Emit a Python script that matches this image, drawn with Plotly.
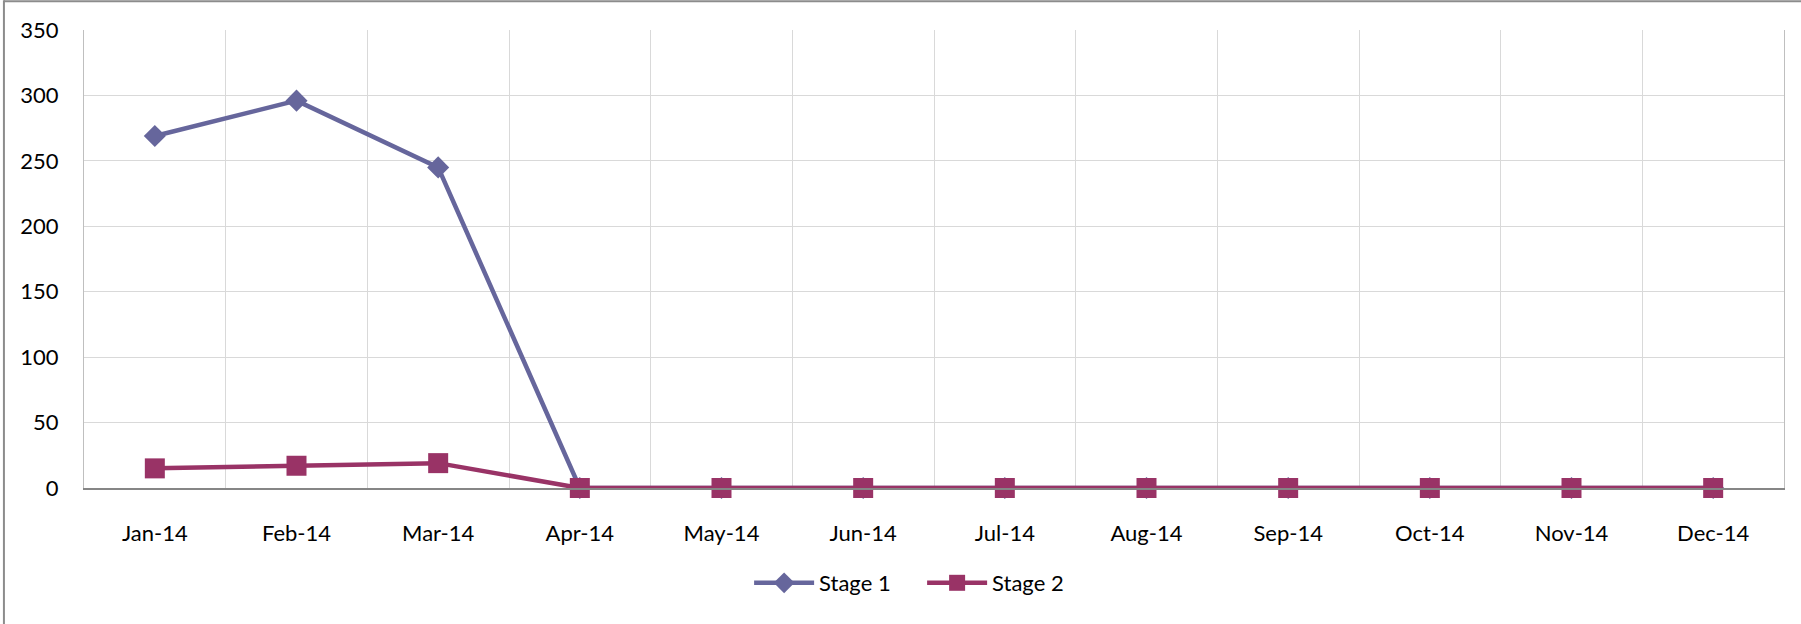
import plotly.graph_objects as go

months = ["Jan-14", "Feb-14", "Mar-14", "Apr-14", "May-14", "Jun-14",
          "Jul-14", "Aug-14", "Sep-14", "Oct-14", "Nov-14", "Dec-14"]
stage1 = [269, 296, 245, 0, 0, 0, 0, 0, 0, 0, 0, 0]
stage2 = [15, 17, 19, 0, 0, 0, 0, 0, 0, 0, 0, 0]

FONT = "Lato"

fig = go.Figure()
fig.add_trace(go.Scatter(
    x=months, y=stage1, name="Stage 1", mode="lines+markers",
    line=dict(color="#66669C", width=4.5),
    marker=dict(symbol="diamond", size=17, color="#66669C"),
    cliponaxis=False,
))
fig.add_trace(go.Scatter(
    x=months, y=stage2, name="Stage 2", mode="lines+markers",
    line=dict(color="#993366", width=4.5),
    marker=dict(symbol="square", size=20, color="#993366"),
    cliponaxis=False,
))

fig.update_layout(
    width=1801, height=624,
    margin=dict(l=84, r=17, t=30, b=136),
    paper_bgcolor="white", plot_bgcolor="white",
    font=dict(family=FONT, size=22, color="#000000"),
    showlegend=True,
    legend=dict(orientation="h", xref="container", yref="container",
                x=0.512, xanchor="center", y=1 - 583 / 624, yanchor="middle",
                font=dict(family=FONT, size=22), itemwidth=60,
                entrywidth=98, entrywidthmode="pixels",
                tracegroupgap=0),
    xaxis=dict(type="category", tickson="boundaries", range=[-0.5, 11.5],
               showgrid=True, gridcolor="#D9D9D9", gridwidth=1,
               showline=True, linecolor="#868686", linewidth=2,
               ticks="", ticklabelstandoff=25,
               tickfont=dict(family=FONT, size=22)),
    yaxis=dict(range=[0, 350], dtick=50, showgrid=True, gridcolor="#D9D9D9",
               gridwidth=1, zeroline=False,
               showline=True, mirror=True, linecolor="#BFBFBF", linewidth=1,
               ticks="", ticklabelstandoff=20,
               tickfont=dict(family=FONT, size=22)),
    hovermode=False,
    shapes=[
        dict(type="line", xref="paper", yref="paper", x0=-0.0471, x1=1.02,
             y0=1.063, y1=1.063, line=dict(color="#8C8C8C", width=2)),
        dict(type="line", xref="paper", yref="paper", x0=-0.0471, x1=-0.0471,
             y0=1.065, y1=-0.3, line=dict(color="#8C8C8C", width=2)),
    ],
)

fig.write_html("out.html", config={"displayModeBar": False},
               post_script="document.body.style.margin='0';document.body.style.overflow='hidden';")
